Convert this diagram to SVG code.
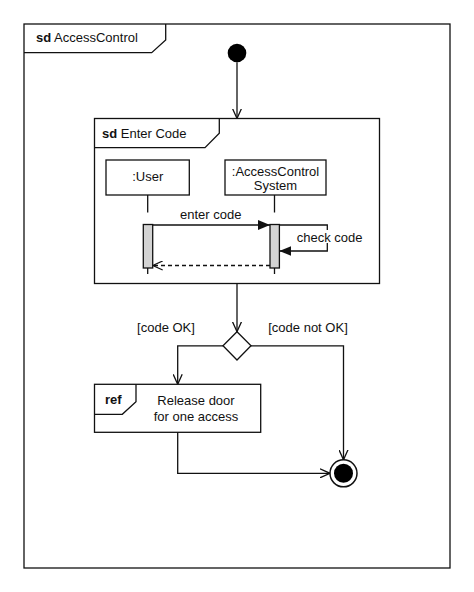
<svg xmlns="http://www.w3.org/2000/svg" width="474" height="592" viewBox="0 0 474 592">
<style>
.ln{fill:none;stroke:#111;stroke-width:1.3}
.box{fill:#fff;stroke:#111;stroke-width:1.3}
.bar{fill:#d3d3d3;stroke:#111;stroke-width:1.3}
.t{font-family:"Liberation Sans",Arial,sans-serif;font-size:13px;fill:#111}
.m{text-anchor:middle}
.b{font-weight:bold}
</style>
<defs>
<marker id="open" viewBox="0 0 10 10" refX="10" refY="5" markerWidth="10" markerHeight="10" markerUnits="userSpaceOnUse" orient="auto">
<path d="M0,0.5 L10,5 L0,9.5" fill="none" stroke="#111" stroke-width="1.3"/>
</marker>
<marker id="fill" viewBox="0 0 12 10" refX="12" refY="5" markerWidth="12" markerHeight="10" markerUnits="userSpaceOnUse" orient="auto">
<path d="M0,0 L12,5 L0,10 Z" fill="#111"/>
</marker>
</defs>
<rect width="474" height="592" fill="#fff"/>
<g id="frame-access-control">
<rect class="box" x="24" y="24" width="426" height="544"/>
<path class="ln" d="M24,52.7 H151.7 L165.7,40 V24"/>
<text class="t" x="36" y="42"><tspan class="b">sd</tspan> AccessControl</text>
</g>
<g id="initial">
<circle cx="237" cy="53" r="9.3" fill="#000"/>
</g>
<g id="frame-enter-code">
<rect class="box" x="94.5" y="118.5" width="285" height="165"/>
<path class="ln" d="M94.5,147.7 H205 L219.3,133.3 V118.5"/>
<text class="t" x="102" y="138"><tspan class="b">sd</tspan> Enter Code</text>
</g>
<g id="user">
<rect class="box" x="106" y="160" width="83.3" height="35"/>
<text class="t m" x="147.7" y="181">:User</text>
<path class="ln" d="M147.7,195 V212.5 M147.7,268 V274"/>
<rect class="bar" x="143.3" y="224.5" width="9.4" height="43.5"/>
</g>
<g id="system">
<rect class="box" x="225" y="160" width="101" height="35"/>
<text class="t m" x="275.5" y="175.5">:AccessControl</text>
<text class="t m" x="275.5" y="189.5">System</text>
<path class="ln" d="M274.5,195 V212.5 M274.5,268 V274"/>
<rect class="bar" x="270" y="224.5" width="9.4" height="43.5"/>
</g>
<g id="decision">
<path class="box" d="M237,331.7 L251,345.8 L237,360 L223,345.8 Z"/>
</g>
<g id="ref-release">
<rect class="box" x="94.5" y="384.3" width="166.2" height="48"/>
<path class="ln" d="M94.5,414.3 H122.3 L136,401.7 V384.3"/>
<text class="t b" x="105" y="403.5">ref</text>
<text class="t m" x="196" y="404.5">Release door</text>
<text class="t m" x="196" y="420.5">for one access</text>
</g>
<g id="final">
<circle cx="343.5" cy="473.3" r="13.5" fill="#fff" stroke="#111" stroke-width="1.5"/>
<circle cx="343.5" cy="473.3" r="9.5" fill="#000"/>
</g>
<g id="connectors">
<path class="ln" d="M237,62.3 V118.5" marker-end="url(#open)"/>
<path class="ln" d="M152.7,225 H270" marker-end="url(#fill)"/>
<text class="t m" x="210.7" y="219">enter code</text>
<path class="ln" d="M279.4,225 H327.3 V251 H279.4" marker-end="url(#fill)"/>
<rect x="295" y="230" width="68" height="13" fill="#fff"/>
<text class="t" x="296.7" y="242">check code</text>
<path class="ln" d="M270,265.5 H152.7" stroke-dasharray="4,3" marker-end="url(#open)"/>
<path class="ln" d="M237,283.5 V331.7" marker-end="url(#open)"/>
<text class="t m" x="166" y="332">[code OK]</text>
<text class="t m" x="308" y="332">[code not OK]</text>
<path class="ln" d="M223,345.8 H177.7 V384.3" marker-end="url(#open)"/>
<path class="ln" d="M251,345.8 H343.5 V459.8" marker-end="url(#open)"/>
<path class="ln" d="M177.7,432.3 V473.3 H330" marker-end="url(#open)"/>
</g>
</svg>
